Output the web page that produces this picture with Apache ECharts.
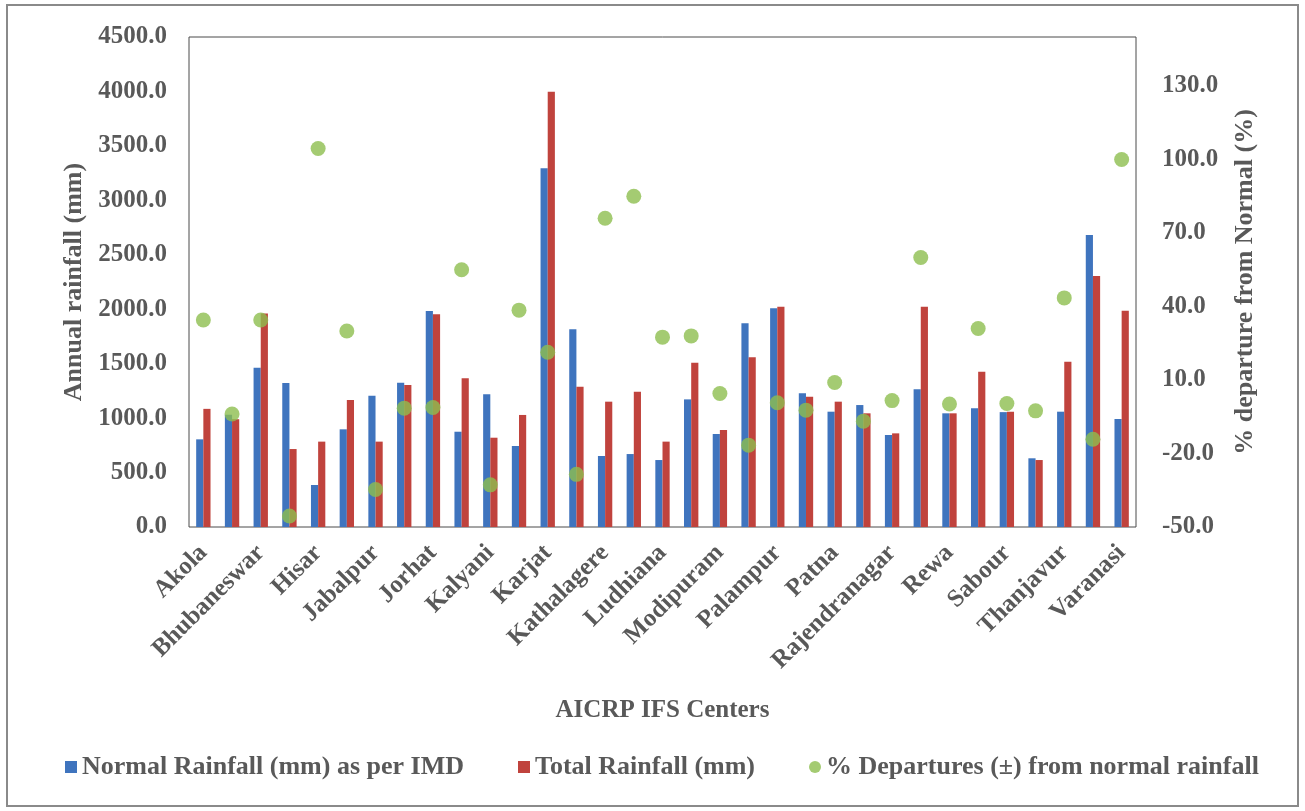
<!DOCTYPE html>
<html>
<head>
<meta charset="utf-8">
<script src="https://cdn.jsdelivr.net/npm/echarts@6/dist/echarts.min.js"></script>
<style>
  html, body { margin: 0; padding: 0; background: #ffffff; }
  #chart { width: 1305px; height: 811px; }
</style>
</head>
<body>
<div id="chart"></div>
<script>
// Categories (only every other name is legible in the reference)
const categories = ['Akola', '', 'Bhubaneswar', '', 'Hisar', '', 'Jabalpur', '', 'Jorhat', '', 'Kalyani', '', 'Karjat', '', 'Kathalagere', '', 'Ludhiana', '', 'Modipuram', '', 'Palampur', '', 'Patna', '', 'Rajendranagar', '', 'Rewa', '', 'Sabour', '', 'Thanjavur', '', 'Varanasi'];

const normalRainfall = [805, 1030, 1463, 1322, 386, 897, 1206, 1325, 1984, 875, 1219, 744, 3294, 1815, 652, 670, 615, 1172, 854, 1871, 2008, 1228, 1059, 1120, 845, 1264, 1044, 1090, 1055, 631, 1059, 2682, 992];

const totalRainfall = [1085, 990, 1960, 716, 784, 1166, 784, 1304, 1953, 1365, 820, 1029, 3998, 1289, 1151, 1243, 784, 1509, 891, 1558, 2023, 1197, 1151, 1044, 860, 2023, 1044, 1426, 1059, 615, 1518, 2305, 1987];

const departures = [34.5, -3.9, 34.5, -45.5, 104.5, 30, -34.7, -1.5, -1.2, 55, -32.8, 38.5, 21.3, -28.5, 76, 85, 27.5, 28, 4.5, -16.6, 0.7, -2.3, 9, -6.8, 1.6, 60, 0.2, 31, 0.4, -2.6, 43.5, -14.2, 100];

const rightTicks = [-50, -20, 10, 40, 70, 100, 130];

const seriesNames = ['Normal Rainfall (mm) as per IMD', 'Total Rainfall (mm)', '% Departures (\u00B1) from normal rainfall'];

const FONT = '"Liberation Serif", "Times New Roman", serif';
const TXT = '#595959';

const chart = echarts.init(document.getElementById('chart'), null, { renderer: 'canvas' });

chart.setOption({
  backgroundColor: '#ffffff',
  animation: false,
  textStyle: { fontFamily: FONT, fontWeight: 'bold', color: TXT },
  graphic: [{
    type: 'rect',
    shape: { x: 7, y: 5, width: 1291, height: 801 },
    style: { fill: 'none', stroke: '#8a8a8a', lineWidth: 2 },
    silent: true
  }],
  grid: {
    left: 189, right: 169, top: 37, bottom: 284,
    show: true, borderColor: '#4a4a4a', borderWidth: 1, backgroundColor: 'transparent'
  },
  legend: {
    left: 60, top: 749,
    itemWidth: 12, itemHeight: 12, itemGap: 54,
    textStyle: { fontFamily: FONT, fontWeight: 'bold', fontSize: 26, color: TXT },
    data: [
      { name: seriesNames[0], icon: 'rect' },
      { name: seriesNames[1], icon: 'rect' },
      { name: seriesNames[2], icon: 'circle' }
    ]
  },
  xAxis: {
    type: 'category',
    data: categories,
    axisLine: { show: false },
    axisTick: { show: false },
    axisLabel: {
      interval: 1, rotate: 45, margin: 22,
      fontFamily: FONT, fontWeight: 'bold', fontSize: 25, color: TXT
    },
    name: 'AICRP IFS Centers',
    nameLocation: 'middle',
    nameGap: 171,
    nameTextStyle: { fontFamily: FONT, fontWeight: 'bold', fontSize: 25, color: TXT }
  },
  yAxis: [{
    type: 'value',
    min: 0, max: 4500, interval: 500,
    axisLine: { show: false },
    axisTick: { show: false },
    splitLine: { show: false },
    axisLabel: {
      margin: 22,
      formatter: v => v.toFixed(1),
      fontFamily: FONT, fontWeight: 'bold', fontSize: 25, color: TXT
    },
    name: 'Annual rainfall (mm)',
    nameLocation: 'middle',
    nameRotate: 90,
    nameGap: 102,
    nameTextStyle: { fontFamily: FONT, fontWeight: 'bold', fontSize: 26, color: TXT }
  }, {
    type: 'value',
    min: -50, max: 150,
    position: 'right',
    axisLine: { show: false },
    axisTick: { show: false },
    splitLine: { show: false },
    axisLabel: {
      customValues: rightTicks,
      margin: 26,
      formatter: v => v.toFixed(1),
      fontFamily: FONT, fontWeight: 'bold', fontSize: 25, color: TXT
    },
    name: '% departure from Normal (%)',
    nameLocation: 'middle',
    nameRotate: 90,
    nameGap: 96,
    nameTextStyle: { fontFamily: FONT, fontWeight: 'bold', fontSize: 26, color: TXT }
  }],
  series: [{
    name: seriesNames[0],
    type: 'bar',
    yAxisIndex: 0,
    data: normalRainfall,
    barGap: '0%',
    barCategoryGap: '50%',
    itemStyle: { color: '#3F74BE' }
  }, {
    name: seriesNames[1],
    type: 'bar',
    yAxisIndex: 0,
    data: totalRainfall,
    barGap: '0%',
    barCategoryGap: '50%',
    itemStyle: { color: '#C0433D' }
  }, {
    name: seriesNames[2],
    type: 'scatter',
    yAxisIndex: 1,
    data: departures,
    symbol: 'circle',
    symbolSize: 15,
    itemStyle: { color: '#8DBE4F' },
    z: 5
  }]
});
</script>
</body>
</html>
